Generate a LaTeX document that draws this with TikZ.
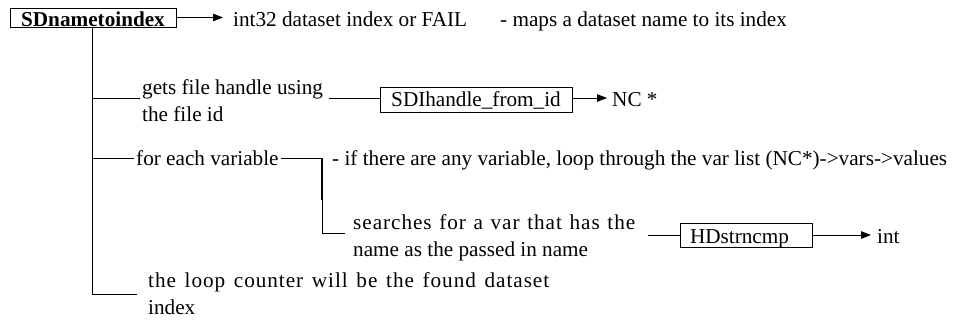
\documentclass[tikz,border=0pt]{standalone}
\usepackage{fontspec}
\setmainfont{Liberation Serif}
\newfontfamily\spacedfont[LetterSpace=4.5]{Liberation Serif}
\usetikzlibrary{arrows.meta}
\begin{document}
\fontsize{21.2}{26.5}\selectfont
\begin{tikzpicture}[x=1pt,y=-1pt,
  conn/.style={line width=1pt},
  arr/.style={line width=1pt,-{Triangle[length=10pt,width=7.5pt]}},
  fbox/.style={draw,line width=1pt,inner xsep=0pt,inner ysep=0pt},
  txt/.style={inner xsep=2pt,inner ysep=0pt,anchor=base west,align=left}]
\useasboundingbox[fill=white] (0,0) rectangle (958,322);
% boxes
\node[fbox,font=\bfseries,minimum width=166pt,minimum height=19pt,text height=18pt,text depth=1pt] (root) at (93,17.5) {SDnametoindex};
\node[fbox,minimum width=192pt,minimum height=25pt,text height=19pt,text depth=6pt] (h) at (476,99.5) {SDIhandle\_from\_id};
\node[fbox,inner xsep=10pt,text width=112pt,minimum height=24pt,text height=20pt,text depth=4pt] (hd) at (746,235) {HDstrncmp};
% texts (multi-line nodes are placed by the baseline of their last line)
\node[txt] (ret1) at (231,26) {int32 dataset index or FAIL};
\node[txt] (desc1) at (498,26) {- maps a dataset name to its index};
\node[txt] (gets) at (140,121) {gets file handle using\\the file id};
\node[txt] (nc) at (610,106) {NC *};
\node[txt] (fev) at (134,165) {for each variable};
\node[txt] (ifany) at (330,165) {- if there are any variable, loop through the var list (NC*)->vars->values};
\node[txt] (search) at (351,256) {\makebox[282pt][s]{\spacedfont searches for a var that has the}\\name as the passed in name};
\node[txt] (loop) at (146,314) {\makebox[401pt][s]{\spacedfont the loop counter will be the found dataset}\\index};
\node[txt] (int) at (875,243) {int};
% coordinates
\coordinate (tkb) at (92,294);
\coordinate (loopl) at (137,294);
\coordinate (b1) at (92,98);
\coordinate (b2) at (92,158);
\coordinate (v2) at (322,158);
\coordinate (v2m) at (322,200);
\coordinate (v2b) at (322,233);
\coordinate (s2) at (648,235);
% connectors
\draw[arr] (root.east) -- ([xshift=-8pt]ret1.west |- root.east);
\draw[conn] (root.south -| tkb) -- (tkb) -- (loopl);
\draw[conn] (b1) -- (gets.west |- b1);
\draw[conn] ([xshift=4pt]gets.east |- b1) -- (h.west |- b1);
\draw[arr] (h.east |- b1) -- ([xshift=-3pt]nc.west |- b1);
\draw[conn] (b2) -- (fev.west |- b2);
\draw[conn] (fev.east |- b2) -- (v2) -- (v2b) -- ([xshift=-6pt]search.west |- v2b);
\draw[line width=2pt] (v2) -- (v2m);
\draw[conn] (s2) -- (hd.west);
\draw[arr] (hd.east) -- ([xshift=-4pt]int.west |- hd.east);
\end{tikzpicture}
\end{document}
